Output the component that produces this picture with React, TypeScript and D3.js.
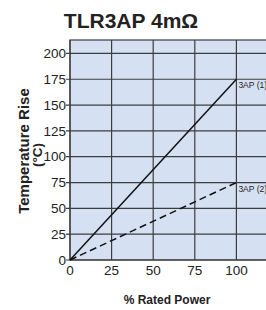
import React from "react";
import * as d3 from "d3";

const xTicks = [0, 25, 50, 75, 100];
const yTicks = [0, 25, 50, 75, 100, 125, 150, 175, 200];
const power = [0, 100];
const rise1 = [0, 175];
const rise2 = [0, 75];
const seriesNames = ["3AP (1)", "3AP (2)"];

const App = () => {
  const width = 266;
  const height = 310;
  const margin = { top: 40, left: 70, bottom: 50 };

  const x = d3.scaleLinear().domain([0, 125]).range([margin.left, 278]);
  const y = d3.scaleLinear().domain([0, 213]).range([height - margin.bottom, margin.top]);

  const line = d3
    .line<number>()
    .x((d, i) => x(power[i]))
    .y((d) => y(d));

  const series = [rise1, rise2];
  const grid = "#3c3c3c";
  const font = "Liberation Sans, Arial, sans-serif";

  return (
    <svg
      width={width}
      height={height}
      style={{ position: "absolute", left: 0, top: 0 }}
      fontFamily={font}
    >
      <rect
        x={x(0)}
        y={y(213)}
        width={x(125) - x(0)}
        height={y(0) - y(213)}
        fill="#d5e1f3"
        stroke={grid}
        strokeWidth={1.2}
      />
      {xTicks.map((t) => (
        <g key={"x" + t}>
          <line x1={x(t)} x2={x(t)} y1={y(0)} y2={y(213)} stroke={grid} strokeWidth={1.2} />
          <text x={x(t)} y={y(0) + 15} fontSize={13.5} textAnchor="middle" fill="#222">
            {t}
          </text>
        </g>
      ))}
      {yTicks.map((t) => (
        <g key={"y" + t}>
          <line x1={x(0) - 4} x2={x(125)} y1={y(t)} y2={y(t)} stroke={grid} strokeWidth={1.2} />
          <text x={x(0) - 4} y={y(t)} dy="0.35em" fontSize={13.5} textAnchor="end" fill="#222">
            {t}
          </text>
        </g>
      ))}
      {series.map((s, i) => (
        <g key={"s" + i}>
          <path
            d={line(s) || ""}
            fill="none"
            stroke="#111"
            strokeWidth={1.5}
            strokeDasharray={i === 1 ? "7,4" : undefined}
          />
          <text x={x(100) + 2} y={y(s[1]) + 9} fontSize={8.5} fill="#222">
            {seriesNames[i]}
          </text>
        </g>
      ))}
      <text x={131} y={28} fontSize={21} fontWeight="bold" textAnchor="middle" fill="#222">
        TLR3AP 4mΩ
      </text>
      <text x={167} y={304} fontSize={12} fontWeight="bold" textAnchor="middle" fill="#222">
        % Rated Power
      </text>
      <text
        transform="translate(29,151) rotate(-90)"
        fontSize={15}
        fontWeight="bold"
        textAnchor="middle"
        fill="#222"
      >
        Temperature Rise
      </text>
      <text
        transform="translate(42,155) rotate(-90)"
        fontSize={13.5}
        fontWeight="bold"
        textAnchor="middle"
        fill="#222"
      >
        (°C)
      </text>
    </svg>
  );
};

export default App;
